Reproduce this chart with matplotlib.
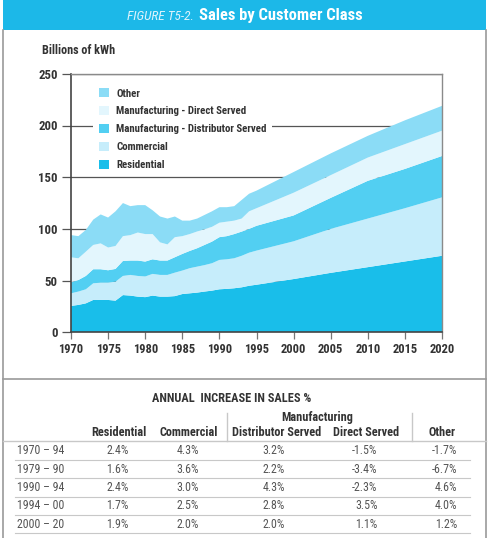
import matplotlib
matplotlib.use("Agg")
import matplotlib.pyplot as plt
from matplotlib.patches import Rectangle, Patch
from matplotlib.lines import Line2D

plt.rcParams['font.family'] = ['Roboto Condensed', 'Liberation Sans', 'DejaVu Sans']

# ---------------- data ----------------
years = [1970, 1971, 1972, 1973, 1974, 1975, 1976, 1977, 1978, 1979,
         1980, 1981, 1982, 1983, 1984, 1985, 1986, 1987, 1988, 1989,
         1990, 1991, 1992, 1993, 1994, 1995, 2000, 2005, 2010, 2015, 2020]
residential = [25.5, 26.5, 28.0, 31.3, 31.3, 31.3, 30.6, 36.0, 35.5, 34.5,
               34.0, 35.5, 34.5, 34.5, 35.0, 37.0, 37.7, 38.4, 39.4, 40.3,
               41.6, 42.0, 42.6, 43.5, 45.0, 46.0, 51.5, 57.5, 63.0, 68.5, 74.0]
commercial = [12.2, 12.9, 13.6, 16.1, 16.7, 16.7, 18.4, 18.5, 20.0, 20.0,
              20.0, 21.0, 21.0, 21.0, 22.7, 22.7, 24.3, 25.1, 25.6, 26.5,
              28.4, 28.6, 29.0, 30.5, 32.0, 33.0, 36.5, 42.5, 47.0, 51.5, 56.5]
mfg_distributor = [10.7, 11.2, 12.9, 13.6, 13.0, 12.0, 12.3, 14.5, 13.9, 14.9,
                   14.4, 14.1, 13.9, 13.9, 14.9, 16.1, 16.7, 17.8, 19.5, 20.9,
                   22.0, 22.4, 23.4, 23.4, 23.0, 24.0, 25.0, 30.0, 36.5, 38.0, 40.0]
mfg_direct = [24.1, 21.0, 23.5, 23.5, 25.0, 22.0, 22.2, 24.0, 24.6, 27.1,
              26.6, 24.4, 17.6, 15.6, 19.4, 17.2, 16.3, 16.2, 15.2, 14.3,
              14.0, 14.0, 13.0, 12.6, 17.0, 17.0, 22.0, 22.0, 22.5, 24.0, 24.5]
other = [21.5, 21.4, 21.0, 24.5, 28.0, 29.0, 33.5, 32.0, 28.0, 26.5,
         28.0, 23.0, 25.0, 25.0, 20.0, 15.0, 13.0, 12.5, 13.8, 15.0,
         15.0, 14.0, 14.0, 18.0, 17.0, 17.0, 20.0, 21.0, 21.0, 23.0, 24.0]

series_labels = ['Residential', 'Commercial', 'Manufacturing - Distributor Served',
                 'Manufacturing - Direct Served', 'Other']
series_colors = ['#19BEEA', '#C6EDFB', '#52CFF2', '#E3F6FD', '#8BDCF6']

x_ticks = [1970, 1975, 1980, 1985, 1990, 1995, 2000, 2005, 2010, 2015, 2020]
y_ticks = [0, 50, 100, 150, 200, 250]

table_title = 'ANNUAL  INCREASE IN SALES %'
table_group = 'Manufacturing'
table_headers = ['Residential', 'Commercial', 'Distributor Served', 'Direct Served', 'Other']
table_periods = ['1970 – 94', '1979 – 90', '1990 – 94', '1994 – 00', '2000 – 20']
table_values = [
    ['2.4%', '4.3%', '3.2%', '-1.5%', '-1.7%'],
    ['1.6%', '3.6%', '2.2%', '-3.4%', '-6.7%'],
    ['2.4%', '3.0%', '4.3%', '-2.3%', '4.6%'],
    ['1.7%', '2.5%', '2.8%', '3.5%', '4.0%'],
    ['1.9%', '2.0%', '2.0%', '1.1%', '1.2%'],
]

# ---------------- figure ----------------
W, H = 489, 538
fig = plt.figure(figsize=(W / 100, H / 100), dpi=100)


def fx(px):
    return px / W


def fy(py):
    return 1 - py / H


# title bar
fig.patches.append(Rectangle((fx(3), fy(29.5)), fx(483), 29.5 / H,
                             transform=fig.transFigure, facecolor='#1CB8E8',
                             edgecolor='none', zorder=0))
fig.text(fx(194), fy(16), 'FIGURE T5-2.', ha='right', va='center', color='#DDF3FC',
         fontsize=9.6, style='italic')
fig.text(fx(199), fy(15.5), 'Sales by Customer Class', ha='left', va='center',
         color='white', fontsize=11.9, fontweight='bold')

# panel borders
border = '#9A9A9A'
fig.add_artist(Line2D([fx(3), fx(3)], [fy(29.5), fy(538)], transform=fig.transFigure,
                      color=border, lw=1.2))
fig.add_artist(Line2D([fx(486), fx(486)], [fy(29.5), fy(538)], transform=fig.transFigure,
                      color=border, lw=1.2))
fig.add_artist(Line2D([fx(3), fx(486)], [fy(378.5), fy(378.5)], transform=fig.transFigure,
                      color=border, lw=1.2))

fig.text(fx(42), fy(50), 'Billions of kWh', ha='left', va='center', fontsize=8.7,
         fontweight='bold', color='#333333')

# chart axes
ax = fig.add_axes([fx(71), fy(332.3), 371 / W, 258.5 / H])
ax.stackplot(years, residential, commercial, mfg_distributor, mfg_direct, other,
             colors=series_colors, labels=series_labels, linewidth=0, zorder=2)
ax.set_xlim(1970, 2020)
ax.set_ylim(0, 250)
ax.set_xticks(x_ticks)
ax.set_yticks(y_ticks)
ax.yaxis.grid(True, color='#555555', lw=0.9)
ax.set_axisbelow(True)
for s in ['left', 'bottom']:
    ax.spines[s].set_color('#444444')
    ax.spines[s].set_linewidth(1.2)
for s in ['top', 'right']:
    ax.spines[s].set_color('#8A8A8A')
    ax.spines[s].set_linewidth(1.0)
ax.tick_params(axis='y', length=6.5, width=0.9, color='#555555', pad=3,
               labelsize=9.2, labelcolor='#333333')
ax.tick_params(axis='x', length=5, width=0.9, color='#777777', pad=3,
               labelsize=9, labelcolor='#333333')
for lab in ax.get_xticklabels() + ax.get_yticklabels():
    lab.set_fontweight('bold')

handles = [Patch(facecolor=c, edgecolor='none') for c in series_colors][::-1]
leg = ax.legend(handles, series_labels[::-1], loc='upper left',
                bbox_to_anchor=(0.06, 0.965), frameon=True, fancybox=False,
                framealpha=1, facecolor='white', edgecolor='none',
                prop={'size': 7.8, 'weight': 'bold'},
                handlelength=0.92, handleheight=0.92, handletextpad=0.72,
                labelspacing=0.7, borderpad=0.5, borderaxespad=0)
for t in leg.get_texts():
    t.set_color('#333333')
leg.set_zorder(3)

# ---------------- table ----------------
hdr_color = '#333333'
val_color = '#555555'
line_color = '#C8C8C8'
fig.text(fx(232), fy(399), table_title, ha='center', va='center', fontsize=8.8,
         fontweight='bold', color=hdr_color)
fig.text(fx(317), fy(418), table_group, ha='center', va='center', fontsize=8.8,
         fontweight='bold', color=hdr_color)
header_x = [119, 189, 277, 366, 442]
for hx, h in zip(header_x, table_headers):
    fig.text(fx(hx), fy(433), h, ha='center', va='center', fontsize=8.8,
             fontweight='bold', color=hdr_color)
for vx in [226.7, 412.3]:
    fig.add_artist(Line2D([fx(vx), fx(vx)], [fy(413), fy(441)], transform=fig.transFigure,
                          color=line_color, lw=1))
fig.add_artist(Line2D([fx(3), fx(486)], [fy(441), fy(441)], transform=fig.transFigure,
                      color=line_color, lw=1))
value_x = [128.5, 199, 285, 377.5, 457]
for i, (p, row) in enumerate(zip(table_periods, table_values)):
    yy = 451 + 18.25 * i
    fig.text(fx(17.5), fy(yy), p, ha='left', va='center', fontsize=8.6, color=val_color)
    for vx, v in zip(value_x, row):
        fig.text(fx(vx), fy(yy), v, ha='right', va='center', fontsize=8.6, color=val_color)
    ly = yy + 9
    fig.add_artist(Line2D([fx(15), fx(470)], [fy(ly), fy(ly)], transform=fig.transFigure,
                          color=line_color, lw=0.8))

fig.savefig('out.png', dpi=100)
